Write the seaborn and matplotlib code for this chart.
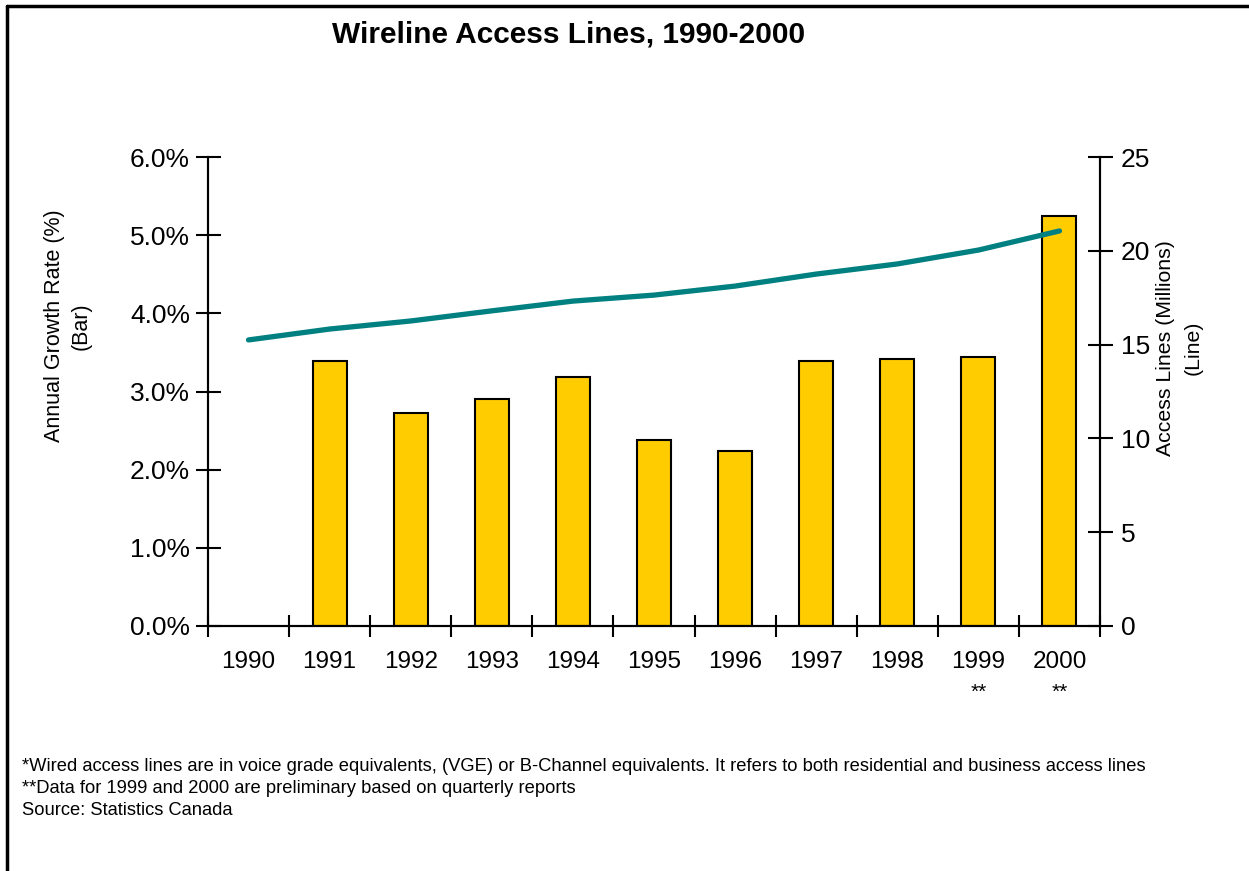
import matplotlib
matplotlib.use("Agg")
import matplotlib.pyplot as plt
import matplotlib.transforms as mtransforms
from matplotlib.lines import Line2D
import seaborn as sns
import numpy as np
import pandas as pd

# data
years = ["1990", "1991", "1992", "1993", "1994", "1995", "1996", "1997", "1998", "1999", "2000"]
growth_pct = [np.nan, 3.39, 2.72, 2.90, 3.18, 2.38, 2.24, 3.39, 3.41, 3.44, 5.24]
access_lines_m = [15.25, 15.83, 16.26, 16.80, 17.32, 17.64, 18.12, 18.76, 19.30, 20.04, 21.06]
preliminary = ["1999", "2000"]

sns.set_style("white")
plt.rcParams['font.family'] = ['Liberation Sans', 'DejaVu Sans']
plt.rcParams['text.color'] = 'black'
plt.rcParams['axes.labelcolor'] = 'black'
plt.rcParams['xtick.color'] = 'black'
plt.rcParams['ytick.color'] = 'black'

df = pd.DataFrame({"year": years, "growth": growth_pct, "lines": access_lines_m})
df["pos"] = np.arange(len(df))

fig = plt.figure(figsize=(12.49, 8.71), dpi=100)
ax = fig.add_axes([0.1665, 0.2813, 0.7142, 0.5384])

sns.barplot(data=df, x="year", y="growth", order=years, color="#FFCC00",
            edgecolor="black", linewidth=1.5, width=0.42, saturation=1, ax=ax)
ax.set_xlim(-0.5, len(years) - 0.5)
ax.set_ylim(0, 6)

ax2 = ax.twinx()
sns.lineplot(data=df, x="pos", y="lines", color="#008080", linewidth=3.8, ax=ax2)
ax2.set_ylim(0, 25)
ax2.set_xlim(-0.5, len(years) - 0.5)

# ticks
ax.set_yticks(np.arange(0, 6.01, 1.0))
ax.set_yticklabels([f"{v:.1f}%" for v in np.arange(0, 6.01, 1.0)])
ax2.set_yticks(np.arange(0, 26, 5))
ax.set_xticks(np.arange(-0.5, len(years), 1.0))
ax.set_xticklabels([])
ax.set_xticks(np.arange(len(years)), minor=True)
ax.set_xticklabels(years, minor=True)
ax.tick_params(axis="x", which="major", direction="inout", length=16, width=1.5, bottom=True)
ax.tick_params(axis="x", which="minor", length=0, pad=18, labelsize=17.5)
ax.tick_params(axis="y", direction="inout", length=18, width=1.5, left=True, labelsize=19, pad=4)
ax2.tick_params(axis="y", direction="inout", length=18, width=1.5, right=True, labelsize=19, pad=6)

for a in (ax, ax2):
    for side in ("left", "right", "bottom"):
        a.spines[side].set_visible(True)
        a.spines[side].set_color("black")
        a.spines[side].set_linewidth(1.5)
    a.spines["top"].set_visible(False)
    a.grid(False)

ax.set_xlabel("")
ax.set_ylabel("Annual Growth Rate (%)\n(Bar)", fontsize=15.5, linespacing=1.4)
ax.yaxis.set_label_coords(-0.130, 0.64)
ax2.set_xlabel("")
ax2.set_ylabel("Access Lines (Millions)\n(Line)", fontsize=15.3, linespacing=1.6)
ax2.yaxis.set_label_coords(1.0625, 0.593)

# preliminary markers under the year labels
trans = mtransforms.blended_transform_factory(ax.transData, ax.transAxes)
for y in preliminary:
    ax.text(years.index(y), -0.141, "**", transform=trans, ha="center", va="center", fontsize=15)

fig.text(0.455, 0.96, "Wireline Access Lines, 1990-2000", ha="center", va="center",
         fontsize=21.5, fontweight="bold")

notes = [
    "*Wired access lines are in voice grade equivalents, (VGE) or B-Channel equivalents. It refers to both residential and business access lines",
    "**Data for 1999 and 2000 are preliminary based on quarterly reports",
    "Source: Statistics Canada",
]
for i, line in enumerate(notes):
    fig.text(0.0176, 0.1195 - i * 0.0248, line, ha="left", va="center", fontsize=13.2)

# frame lines (left and top)
fig.add_artist(Line2D([0.0060, 0.0060], [0, 0.9936], transform=fig.transFigure, color="black", linewidth=2.5))
fig.add_artist(Line2D([0.0060, 1.0], [0.9936, 0.9936], transform=fig.transFigure, color="black", linewidth=2.5))

fig.savefig("out.png", dpi=100)
